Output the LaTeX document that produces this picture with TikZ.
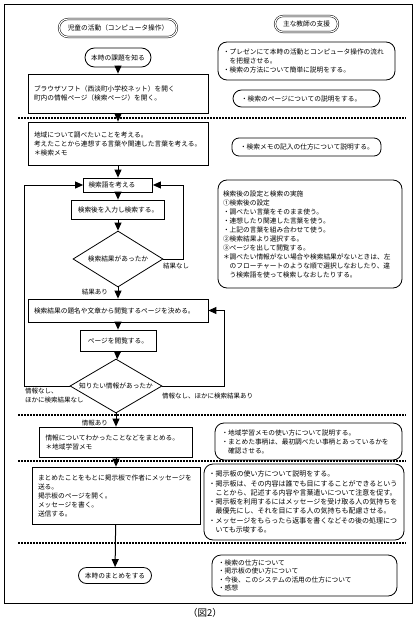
\documentclass[tikz,border=0pt]{standalone}
\usepackage{fontspec}
\newfontfamily\jpfont{Noto Sans CJK JP}
\usetikzlibrary{arrows.meta,shapes.geometric,shapes.misc}

\begin{document}
\begin{tikzpicture}[x=1pt,y=-1pt,
    every node/.style={font=\jpfont\fontsize{6.7}{9}\selectfont, inner sep=0pt},
    flowbox/.style={draw, line width=0.8pt, rectangle, align=left, inner xsep=6pt},
    pill/.style={draw, line width=0.8pt, rounded rectangle, align=center},
    headpill/.style={pill, double, double distance=1.1pt, line width=0.5pt},
    askbox/.style={draw, line width=0.8pt, diamond, aspect=1.6},
    notebox/.style={draw, line width=0.8pt, rounded corners=9pt, align=left, inner xsep=5pt},
    flow/.style={line width=1pt, -{Triangle[width=7pt,length=8pt]}},
    sepline/.style={line width=1.5pt, dash pattern=on 1.5pt off 1.5pt},
    tag/.style={font=\jpfont\fontsize{6.5}{9}\selectfont, align=left}]
            \useasboundingbox (0,0) rectangle (418,623);
            \draw[line width=0.8pt] (4,4) rectangle (412,603);
            % separators
            \draw[sepline] (18,118) -- (406,118);
            \draw[sepline] (18,415) -- (406,415);
            \draw[sepline] (18,461) -- (406,461);
            \draw[sepline] (18,543) -- (406,543);
            % children's activity
            \node[headpill, minimum width=118pt, minimum height=18pt] (kidhead) at (118,28) {児童の活動（コンピュータ操作）};
            \node[pill, minimum width=66pt, minimum height=19pt] (task) at (118,57.5) {本時の課題を知る};
            \node[flowbox, text width=168pt, minimum height=39pt] (browse) at (118,93.5) {ブラウザソフト（西淡町小学校ネット）を開く\\町内の情報ページ（検索ページ）を開く。};
            \node[flowbox, text width=168pt, minimum height=43pt] (think) at (118,143.5) {地域について調べたいことを考える。\\考えたことから連想する言葉や関連した言葉を考える。\\＊検索メモ};
            \node[flowbox, inner xsep=5pt, text width=59pt, minimum height=14pt] (keyword) at (118,185) {検索語を考える};
            \node[flowbox, minimum width=93pt, minimum height=19pt] (enter) at (118,209.5) {検索後を入力し検索する。};
            \node[askbox, minimum width=90pt, minimum height=56pt] (found) at (118,259) {検索結果があったか};
            \node[flowbox, text width=168pt, minimum height=23pt] (choose) at (118,310.5) {検索結果の題名や文章から閲覧するページを決める。};
            \node[flowbox, minimum width=76pt, minimum height=21pt] (read) at (118,340.5) {ページを閲覧する。};
            \node[askbox, minimum width=92pt, minimum height=54pt] (got) at (116,386) {知りたい情報があったか};
            \node[flowbox, text width=141pt, minimum height=30pt] (note) at (116,442) {情報についてわかったことなどをまとめる。\\＊地域学習メモ};
            \node[flowbox, text width=156pt, minimum height=57pt] (post) at (116,495.5) {まとめたことをもとに掲示板で作者にメッセージを\\送る。\\掲示板のページを開く。\\メッセージを書く。\\送信する。};
            \node[pill, minimum width=73pt, minimum height=16pt] (wrapup) at (115,575.5) {本時のまとめをする};
            % teacher's support
            \node[headpill, minimum width=63pt, minimum height=16pt] (teachhead) at (306.5,24) {主な教師の支援};
            \node[notebox, text width=167pt, minimum height=38pt] (t1) at (306.5,61) {・プレゼンにて本時の活動とコンピュータ操作の流れ\\　を把握させる。\\・検索の方法について簡単に説明をする。};
            \node[notebox, rounded corners=8.5pt, inner xsep=8pt, text width=131pt, minimum height=17pt] (t2) at (306.5,98.5) {・検索のページについての説明をする。};
            \node[notebox, rounded corners=7pt, inner xsep=8pt, text width=133pt, minimum height=18pt] (t3) at (306.5,147) {・検索メモの記入の仕方について説明する。};
            \node[notebox, text width=174pt, minimum height=108pt] (t4) at (310,234) {検索後の設定と検索の実施\\①検索後の設定\\・調べたい言葉をそのまま使う。\\・連想したり関連した言葉を使う。\\・上記の言葉を組み合わせて使う。\\②検索結果より選択する。\\③ページを出して閲覧する。\\＊調べたい情報がない場合や検索結果がないときは、左\\　のフローチャートのような順で選択しなおしたり、違\\　う検索語を使って検索しなおしたりする。};
            \node[notebox, inner xsep=6.5pt, text width=174pt, minimum height=37pt] (t5) at (308.5,441.5) {・地域学習メモの使い方について説明する。\\・まとめた事柄は、最初調べたい事柄とあっているかを\\　確認させる。};
            \node[notebox, font=\jpfont\fontsize{7}{9.3}\selectfont, inner xsep=4.5pt, text width=191pt, minimum height=76pt] (t6) at (304,502) {・掲示板の使い方について説明をする。\\・掲示板は、その内容は誰でも目にすることができるという\\　ことから、記述する内容や言葉遣いについて注意を促す。\\・掲示板を利用するにはメッセージを受け取る人の気持ちを\\　最優先にし、それを目にする人の気持ちも配慮させる。\\・メッセージをもらったら返事を書くなどその後の処理につ\\　いても示唆する。};
            \node[notebox, font=\jpfont\fontsize{6.7}{8.3}\selectfont, inner xsep=6pt, text width=173pt, minimum height=41pt] (t7) at (304.5,575.5) {・検索の仕方について\\・掲示板の使い方について\\・今後、このシステムの活用の仕方について\\・感想};
            % flow
            \coordinate (leftrail) at (24,0);
            \coordinate (rail1) at (183,0);
            \coordinate (rail2) at (224,0);
            \draw[flow] (task) -- (browse);
            \draw[flow] (browse) -- (think);
            \draw[flow] (think) -- (keyword);
            \draw[flow] (keyword) -- (enter);
            \draw[flow] (enter) -- (found);
            \draw[flow] (found) -- (choose);
            \draw[flow] (choose) -- (read);
            \draw[flow] (read) -- (got);
            \draw[flow] (got) -- (note);
            \draw[flow] (note) -- (post);
            \draw[flow] (post) -- (wrapup);
            \draw[flow] (found.east) -- (found.east -| rail1) |- (keyword.east);
            \draw[flow] (got.west) -- (got.west -| leftrail) |- (keyword.west);
            \draw[flow] (got.east) -- (got.east -| rail2) |- (choose.east);
            % labels
            \node[tag, anchor=north west] (nores) at (163,263) {結果なし};
            \node[tag, anchor=east] (hasres) at (108,292) {結果あり};
            \node[tag, anchor=north west] (noinfo) at (25,388) {情報なし、\\ほかに検索結果なし};
            \node[tag, anchor=north west] (noinfo2) at (162,393) {情報なし、ほかに検索結果あり};
            \node[tag, anchor=east] (hasinfo) at (108,423) {情報あり};
            \node[font=\jpfont\fontsize{9.5}{11}\selectfont] (caption) at (205,613) {（図2）};
        \end{tikzpicture}
\end{document}
